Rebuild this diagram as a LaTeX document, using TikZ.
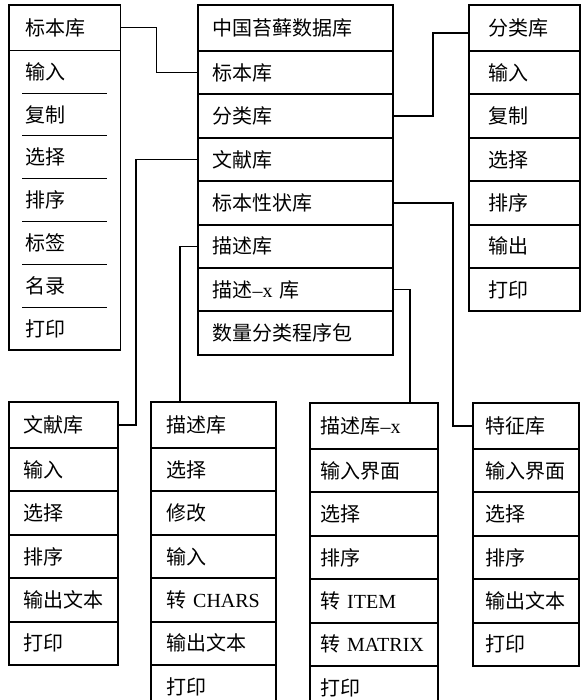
\documentclass[tikz,border=0pt]{standalone}
\usepackage{fontspec}
\setmainfont{Liberation Serif}
\newfontfamily\cjk{Noto Sans CJK SC}
\newcommand\latn[1]{{\rmfamily #1}}
\usepackage{tikz}
\usetikzlibrary{positioning}

\begin{document}
\begin{tikzpicture}[
  x=1pt,y=-1pt,
  cell/.style={rectangle,inner ysep=0pt,align=left,
               font=\cjk\fontsize{20}{22}\selectfont},
  hd/.style={cell,minimum height=45pt},
  rw/.style={cell,minimum height=42.4pt},
  ruled/.style={draw,line width=1pt},
  frame/.style={line width=1.6pt},
  link/.style={line width=1.4pt},
  specA/.style={text width=79pt,inner xsep=16pt},
  specB/.style={text width=166pt,inner xsep=14pt},
  specC/.style={text width=72pt,inner xsep=19pt},
  specD/.style={text width=80pt,inner xsep=14pt},
  specE/.style={text width=94pt,inner xsep=15pt},
  specF/.style={text width=107pt,inner xsep=10pt},
  specG/.style={text width=81pt,inner xsep=12pt},
]
  \useasboundingbox (0,0) rectangle (583,700);

  % specimen library (top left)
  \node[hd,specA,anchor=north west] (A0) at (9,5) {标本库};
  \node[rw,specA,below=0pt of A0] (A1) {输入};
  \node[rw,specA,below=0pt of A1] (A2) {复制};
  \node[rw,specA,below=0pt of A2] (A3) {选择};
  \node[rw,specA,below=0pt of A3] (A4) {排序};
  \node[rw,specA,below=0pt of A4] (A5) {标签};
  \node[rw,specA,below=0pt of A5] (A6) {名录};
  \node[rw,specA,below=0pt of A6] (A7) {打印};
  \draw[frame] (A0.north west) rectangle (A7.south east);
  \draw[ruled] (A0.south west) -- (A0.south east);
  \foreach \i in {1,...,6}
    \draw[ruled] ([xshift=13pt]A\i.south west) -- ([xshift=-13pt]A\i.south east);

  % main database
  \node[hd,ruled,specB,anchor=north west] (B0) at (198,5) {中国苔藓数据库};
  \node[rw,ruled,specB,below=0pt of B0] (B1) {标本库};
  \node[rw,ruled,specB,below=0pt of B1] (B2) {分类库};
  \node[rw,ruled,specB,below=0pt of B2] (B3) {文献库};
  \node[rw,ruled,specB,below=0pt of B3] (B4) {标本性状库};
  \node[rw,ruled,specB,below=0pt of B4] (B5) {描述库};
  \node[rw,ruled,specB,below=0pt of B5] (B6) {描述\latn{--x} 库};
  \node[rw,ruled,specB,below=0pt of B6] (B7) {数量分类程序包};
  \draw[frame] (B0.north west) rectangle (B7.south east);

  % classification library
  \node[hd,ruled,specC,anchor=north west] (C0) at (469,5) {分类库};
  \node[rw,ruled,specC,below=0pt of C0] (C1) {输入};
  \node[rw,ruled,specC,below=0pt of C1] (C2) {复制};
  \node[rw,ruled,specC,below=0pt of C2] (C3) {选择};
  \node[rw,ruled,specC,below=0pt of C3] (C4) {排序};
  \node[rw,ruled,specC,below=0pt of C4] (C5) {输出};
  \node[rw,ruled,specC,below=0pt of C5] (C6) {打印};
  \draw[frame] (C0.north west) rectangle (C6.south east);

  % literature library
  \node[hd,ruled,specD,anchor=north west] (D0) at (9,402) {文献库};
  \node[rw,ruled,specD,below=0pt of D0] (D1) {输入};
  \node[rw,ruled,specD,below=0pt of D1] (D2) {选择};
  \node[rw,ruled,specD,below=0pt of D2] (D3) {排序};
  \node[rw,ruled,specD,below=0pt of D3] (D4) {输出文本};
  \node[rw,ruled,specD,below=0pt of D4] (D5) {打印};
  \draw[frame] (D0.north west) rectangle (D5.south east);

  % description library
  \node[hd,ruled,specE,anchor=north west] (E0) at (151,402) {描述库};
  \node[rw,ruled,specE,below=0pt of E0] (E1) {选择};
  \node[rw,ruled,specE,below=0pt of E1] (E2) {修改};
  \node[rw,ruled,specE,below=0pt of E2] (E3) {输入};
  \node[rw,ruled,specE,below=0pt of E3] (E4) {转 \latn{CHARS}};
  \node[rw,ruled,specE,below=0pt of E4] (E5) {输出文本};
  \node[rw,ruled,specE,below=0pt of E5] (E6) {打印};
  \draw[frame] (E0.north west) rectangle (E6.south east);

  % description-x library
  \node[hd,ruled,specF,anchor=north west] (F0) at (310,403) {描述库\latn{--x}};
  \node[rw,ruled,specF,below=0pt of F0] (F1) {输入界面};
  \node[rw,ruled,specF,below=0pt of F1] (F2) {选择};
  \node[rw,ruled,specF,below=0pt of F2] (F3) {排序};
  \node[rw,ruled,specF,below=0pt of F3] (F4) {转 \latn{ITEM}};
  \node[rw,ruled,specF,below=0pt of F4] (F5) {转 \latn{MATRIX}};
  \node[rw,ruled,specF,below=0pt of F5] (F6) {打印};
  \draw[frame] (F0.north west) rectangle (F6.south east);

  % character library
  \node[hd,ruled,specG,anchor=north west] (G0) at (473,403) {特征库};
  \node[rw,ruled,specG,below=0pt of G0] (G1) {输入界面};
  \node[rw,ruled,specG,below=0pt of G1] (G2) {选择};
  \node[rw,ruled,specG,below=0pt of G2] (G3) {排序};
  \node[rw,ruled,specG,below=0pt of G3] (G4) {输出文本};
  \node[rw,ruled,specG,below=0pt of G4] (G5) {打印};
  \draw[frame] (G0.north west) rectangle (G5.south east);

  % links
  \draw[link] (A0.east) -- ++(36,0) |- (B1.west);
  \draw[link] (B2.east) -- ++(40,0) |- ([yshift=-5pt]C0.west);
  \draw[link] (B4.east) -- ++(60,0) |- (G0.west);
  \draw[link] (B6.east) -| ([xshift=-28pt]F0.north east);
  \draw[link] (B3.west) -- ++(-62,0) |- (D0.east);
  \draw[link] (B5.west) -| ([xshift=29pt]E0.north west);
\end{tikzpicture}
\end{document}
